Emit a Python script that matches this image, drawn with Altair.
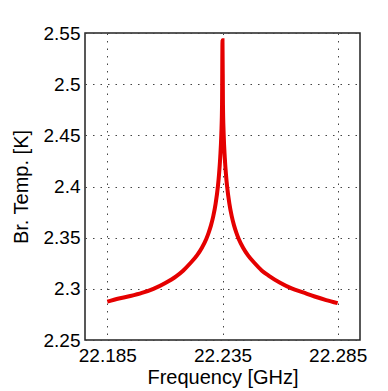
import altair as alt
import pandas as pd

freq_ghz = [22.185, 22.190, 22.195, 22.200, 22.205, 22.210, 22.215, 22.218,
            22.221, 22.224, 22.226, 22.228, 22.229, 22.230, 22.231, 22.232,
            22.233, 22.2335, 22.234, 22.2345, 22.2348, 22.235,
            22.2352, 22.2355, 22.236, 22.2365, 22.237, 22.238, 22.239, 22.240,
            22.241, 22.242, 22.244, 22.246, 22.249, 22.252, 22.255, 22.260,
            22.265, 22.270, 22.275, 22.280, 22.285]
br_temp_k = [2.2874, 2.2905, 2.293, 2.296, 2.300, 2.3055, 2.3125, 2.318,
             2.325, 2.333, 2.340, 2.349, 2.355, 2.362, 2.371, 2.383,
             2.400, 2.412, 2.428, 2.452, 2.480, 2.543,
             2.480, 2.452, 2.428, 2.412, 2.400, 2.383, 2.371, 2.362,
             2.355, 2.349, 2.340, 2.333, 2.325, 2.318, 2.313, 2.306,
             2.3005, 2.2965, 2.2925, 2.289, 2.286]

x_ticks = [22.185, 22.235, 22.285]
y_ticks = [2.25, 2.3, 2.35, 2.4, 2.45, 2.5, 2.55]

df = pd.DataFrame({"f": freq_ghz, "t": br_temp_k})

FONT = "Liberation Sans"

chart = alt.Chart(df).mark_line(color="#e50000", strokeWidth=4, clip=True,
                                interpolate="monotone").encode(
    x=alt.X("f:Q",
            scale=alt.Scale(domain=[22.1753, 22.2947], nice=False, zero=False),
            axis=alt.Axis(values=x_ticks, format=".3f", title="Frequency [GHz]",
                          grid=True, gridColor="#444", gridDash=[1.5, 6], gridWidth=1,
                          ticks=False, domain=False, labelPadding=6,
                          labelFontSize=19, titleFontSize=20, titlePadding=2,
                          labelFont=FONT, titleFont=FONT, labelColor="#000",
                          titleColor="#000", titleFontWeight="normal",
                          labelFlush=False, labelOverlap=False)),
    y=alt.Y("t:Q",
            scale=alt.Scale(domain=[2.25, 2.55], nice=False, zero=False),
            axis=alt.Axis(values=y_ticks, format="~g", title="Br. Temp. [K]",
                          grid=True, gridColor="#444", gridDash=[1.5, 6], gridWidth=1,
                          ticks=False, domain=False, labelPadding=5,
                          labelFontSize=19, titleFontSize=20,
                          labelFont=FONT, titleFont=FONT, labelColor="#000",
                          titleColor="#000", titleFontWeight="normal",
                          titleX=-64, titleY=153.5, titleAngle=-90,
                          titleAlign="center", titleBaseline="middle",
                          labelFlush=False, labelOverlap=False)),
).properties(
    width=275, height=307,
    background="white",
    autosize=alt.AutoSizeParams(type="none"),
    padding={"left": 77, "top": 25, "right": 20, "bottom": 51},
).configure_view(stroke="#222", strokeWidth=1.5)

chart.save("out.html", embed_options={"renderer": "svg", "actions": False})
